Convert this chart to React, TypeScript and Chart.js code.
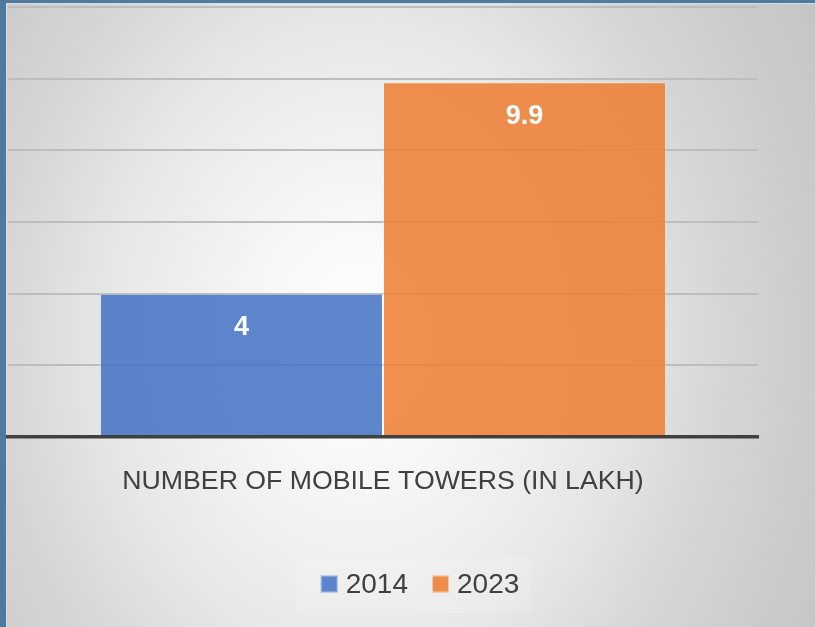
import React, { useEffect, useRef } from "react";
import { Chart, registerables } from "chart.js";

Chart.register(...registerables);

const categories = ["NUMBER OF MOBILE TOWERS (IN LAKH)"];
const seriesNames = ["2014", "2023"];
const values2014 = [4];
const values2023 = [9.9];
const yTickValues = [0, 2, 4, 6, 8, 10, 12];
const seriesColors = ["rgba(68,114,196,0.86)", "rgba(237,125,49,0.86)"];

const FONT = "'Liberation Sans', Arial, sans-serif";
const TEXT = "#404040";

const valueLabels = {
  id: "valueLabels",
  afterDatasetsDraw(chart: any) {
    const ctx = chart.ctx;
    ctx.save();
    ctx.font = `bold 27px ${FONT}`;
    ctx.fillStyle = "#ffffff";
    ctx.textAlign = "center";
    ctx.textBaseline = "middle";
    chart.data.datasets.forEach((ds: any, i: number) => {
      const meta = chart.getDatasetMeta(i);
      meta.data.forEach((bar: any, j: number) => {
        ctx.fillText(String(ds.data[j]), bar.x, bar.y + 34);
      });
    });
    ctx.restore();
  },
};

const bottomLegend = {
  id: "bottomLegend",
  afterDraw(chart: any) {
    const ctx = chart.ctx;
    ctx.save();
    ctx.font = `28px ${FONT}`;
    ctx.textBaseline = "middle";
    ctx.textAlign = "left";
    const box = 17;
    const gap = 8;
    const itemGap = 24;
    const items = chart.data.datasets.map((ds: any) => ({
      label: ds.label,
      color: ds.backgroundColor,
      w: ctx.measureText(ds.label).width,
    }));
    const total =
      items.reduce((s: number, it: any) => s + box + gap + it.w, 0) +
      itemGap * (items.length - 1);
    const cx = (chart.chartArea.left + chart.chartArea.right) / 2 + 37;
    const cy = chart.chartArea.bottom + 147;
    let x = cx - total / 2;
    ctx.fillStyle = "rgba(255,255,255,0.14)";
    ctx.fillRect(x - 25, cy - 26, total + 37, 55);
    items.forEach((it: any) => {
      ctx.fillStyle = it.color;
      ctx.fillRect(x, cy - box / 2, box, box);
      ctx.strokeStyle = "rgba(255,255,255,0.5)";
      ctx.lineWidth = 1;
      ctx.strokeRect(x + 0.5, cy - box / 2 + 0.5, box - 1, box - 1);
      x += box + gap;
      ctx.fillStyle = TEXT;
      ctx.fillText(it.label, x, cy + 1);
      x += it.w + itemGap;
    });
    ctx.restore();
  },
};

export default function App() {
  const ref = useRef<HTMLCanvasElement | null>(null);

  useEffect(() => {
    if (!ref.current) return;
    const chart = new Chart(ref.current, {
      type: "bar",
      data: {
        labels: categories,
        datasets: [
          {
            label: seriesNames[0],
            data: values2014,
            backgroundColor: seriesColors[0],
            borderColor: "rgba(255,255,255,0.35)",
            borderWidth: 1,
          },
          {
            label: seriesNames[1],
            data: values2023,
            backgroundColor: seriesColors[1],
            borderColor: "rgba(255,255,255,0.35)",
            borderWidth: 1,
          },
        ],
      },
      options: {
        animation: false,
        responsive: false,
        devicePixelRatio: 1,
        datasets: {
          bar: { categoryPercentage: 0.755, barPercentage: 1 },
        },
        layout: { padding: { left: 8, right: 57, top: 7, bottom: 130 } },
        plugins: {
          legend: { display: false },
          tooltip: { enabled: false },
        },
        scales: {
          x: {
            grid: { display: false },
            border: { display: true, color: "#404040", width: 3.5, z: 1 },
            ticks: {
              color: TEXT,
              font: { family: FONT, size: 26.7 },
              padding: 21,
              maxRotation: 0,
            },
            afterFit: (s: any) => {
              s.height = 60;
            },
          },
          y: {
            min: 0,
            max: 12,
            afterBuildTicks: (s: any) => {
              s.ticks = yTickValues.map((v) => ({ value: v }));
            },
            ticks: { display: false },
            grid: { color: "#bdbdbd", lineWidth: 2, drawTicks: false },
            border: { display: false },
          },
        },
      },
      plugins: [valueLabels, bottomLegend],
    });
    return () => chart.destroy();
  }, []);

  return (
    <div
      style={{
        position: "fixed",
        left: 0,
        top: 0,
        width: 815,
        height: 627,
        background: "#4e7a9e",
        overflow: "hidden",
      }}
    >
      <div
        style={{
          position: "absolute",
          left: 6,
          top: 3,
          right: 0,
          bottom: 0,
          borderLeft: "1px solid #dcdcdc",
          borderTop: "1px solid #dcdcdc",
          background:
            "radial-gradient(480px 600px at 354px 337px, #ffffff 0%, #f7f7f7 22%, #e7e7e7 53%, #d6d6d6 75%, #cbcbcb 95%, #c4c4c4 112%)",
        }}
      />
      <canvas
        ref={ref}
        width={815}
        height={627}
        style={{ position: "absolute", left: 0, top: 0, width: 815, height: 627 }}
      />
    </div>
  );
}
